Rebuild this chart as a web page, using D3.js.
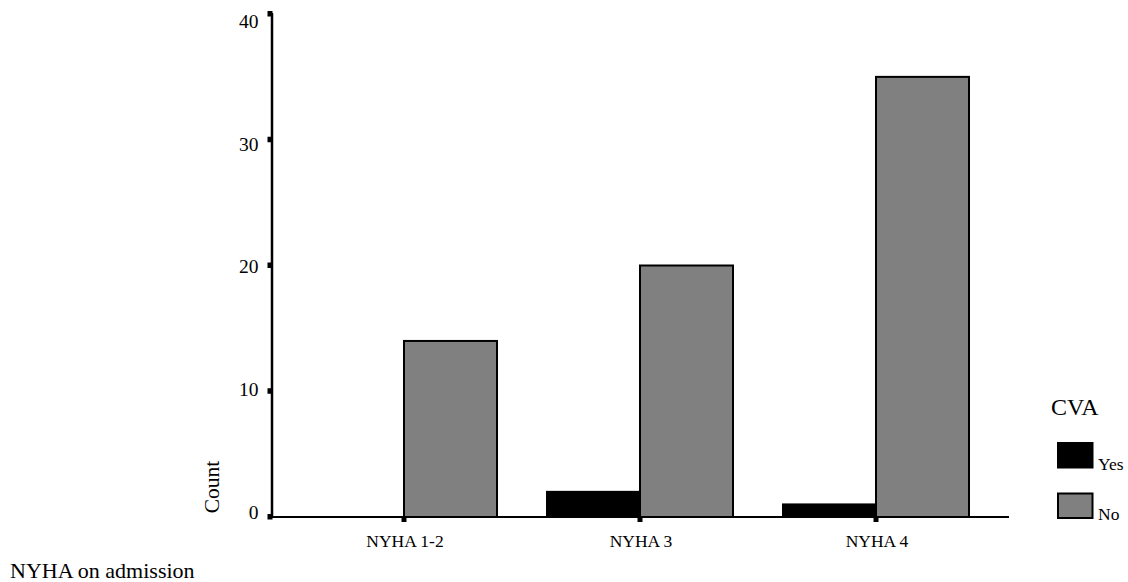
<!DOCTYPE html>
<html>
<head>
<meta charset="utf-8">
<script src="https://cdn.jsdelivr.net/npm/d3@7"></script>
<style>
  html, body { margin: 0; padding: 0; background: #fff; }
  svg { display: block; font-family: "Liberation Serif", "Times New Roman", serif; }
</style>
</head>
<body>
<svg id="chart" width="1128" height="582"></svg>
<script>
// ---- data ----
const categories = ["NYHA 1-2", "NYHA 3", "NYHA 4"];
const seriesNames = ["Yes", "No"];
const yesValues = [0, 2, 1];
const noValues = [14, 20, 35];
const yTicks = [0, 10, 20, 30, 40];
const seriesColors = ["#000000", "#808080"];
const xTitle = "NYHA on admission";
const yTitle = "Count";
const legendTitle = "CVA";

const svg = d3.select("#chart");

// ---- scales ----
const axisX0 = 272, axisX1 = 1009, axisY0 = 517, axisYTop = 13;
const y = d3.scaleLinear().domain([0, 40]).range([517, 14]);
const yLab = d3.scaleLinear().domain([0, 40]).range([511.7, 21]);
const x = d3.scaleBand().domain(categories).range([286, 994]).padding(0);
const xSub = d3.scaleBand().domain(seriesNames).range([-93, 93]).padding(0);
const color = d3.scaleOrdinal().domain(seriesNames).range(seriesColors);

const rows = categories.map((c, i) => ({ cat: c, values: [
  { key: "Yes", v: yesValues[i] },
  { key: "No", v: noValues[i] }
]}));

// ---- bars ----
const groups = svg.append("g").selectAll("g").data(rows).join("g")
  .attr("transform", d => `translate(${x(d.cat) + x.bandwidth() / 2},0)`);
groups.selectAll("rect").data(d => d.values.filter(e => e.v > 0)).join("rect")
  .attr("x", d => xSub(d.key))
  .attr("width", xSub.bandwidth())
  .attr("y", d => y(d.v))
  .attr("height", d => y(0) - y(d.v))
  .attr("fill", d => color(d.key))
  .attr("stroke", "#000")
  .attr("stroke-width", 2);

// ---- axes ----
svg.append("line").attr("x1", axisX0).attr("x2", axisX0)
  .attr("y1", axisY0).attr("y2", axisYTop)
  .attr("stroke", "#000").attr("stroke-width", 2.5);
svg.append("line").attr("x1", axisX0 - 1).attr("x2", axisX1)
  .attr("y1", axisY0).attr("y2", axisY0)
  .attr("stroke", "#000").attr("stroke-width", 2.2);

// y ticks (square marks)
svg.append("g").selectAll("rect").data(yTicks).join("rect")
  .attr("x", 267.5).attr("y", d => y(d) - 3)
  .attr("width", 5).attr("height", 5.5).attr("fill", "#000");
svg.append("g").selectAll("text").data(yTicks).join("text")
  .attr("x", 258.5).attr("y", d => yLab(d))
  .attr("dy", "0.35em")
  .attr("text-anchor", "end")
  .attr("font-size", 19.5)
  .text(d => d);

// x ticks
svg.append("g").selectAll("rect").data(categories).join("rect")
  .attr("x", d => x(d) + x.bandwidth() / 2 - 2.5).attr("y", 517)
  .attr("width", 5).attr("height", 5).attr("fill", "#000");
svg.append("g").selectAll("text").data(categories).join("text")
  .attr("x", d => x(d) + x.bandwidth() / 2 + 1)
  .attr("y", 547)
  .attr("text-anchor", "middle")
  .attr("font-size", 17.5)
  .text(d => d);

// ---- titles ----
svg.append("text").attr("transform", "translate(219,487) rotate(-90)")
  .attr("text-anchor", "middle").attr("font-size", 21.5).text(yTitle);
svg.append("text").attr("x", 10).attr("y", 577.5)
  .attr("font-size", 22).text(xTitle);

// ---- legend ----
svg.append("text").attr("x", 1051).attr("y", 415)
  .attr("font-size", 24).text(legendTitle);
const leg = svg.append("g").selectAll("g").data(seriesNames).join("g")
  .attr("transform", (d, i) => `translate(1058,${443 + i * 50.5})`);
leg.append("rect").attr("width", 34.5).attr("height", 24.5)
  .attr("fill", d => color(d)).attr("stroke", "#000").attr("stroke-width", 2);
leg.append("text").attr("x", 40).attr("y", 26.5)
  .attr("font-size", 17.5).text(d => d);
</script>
</body>
</html>
